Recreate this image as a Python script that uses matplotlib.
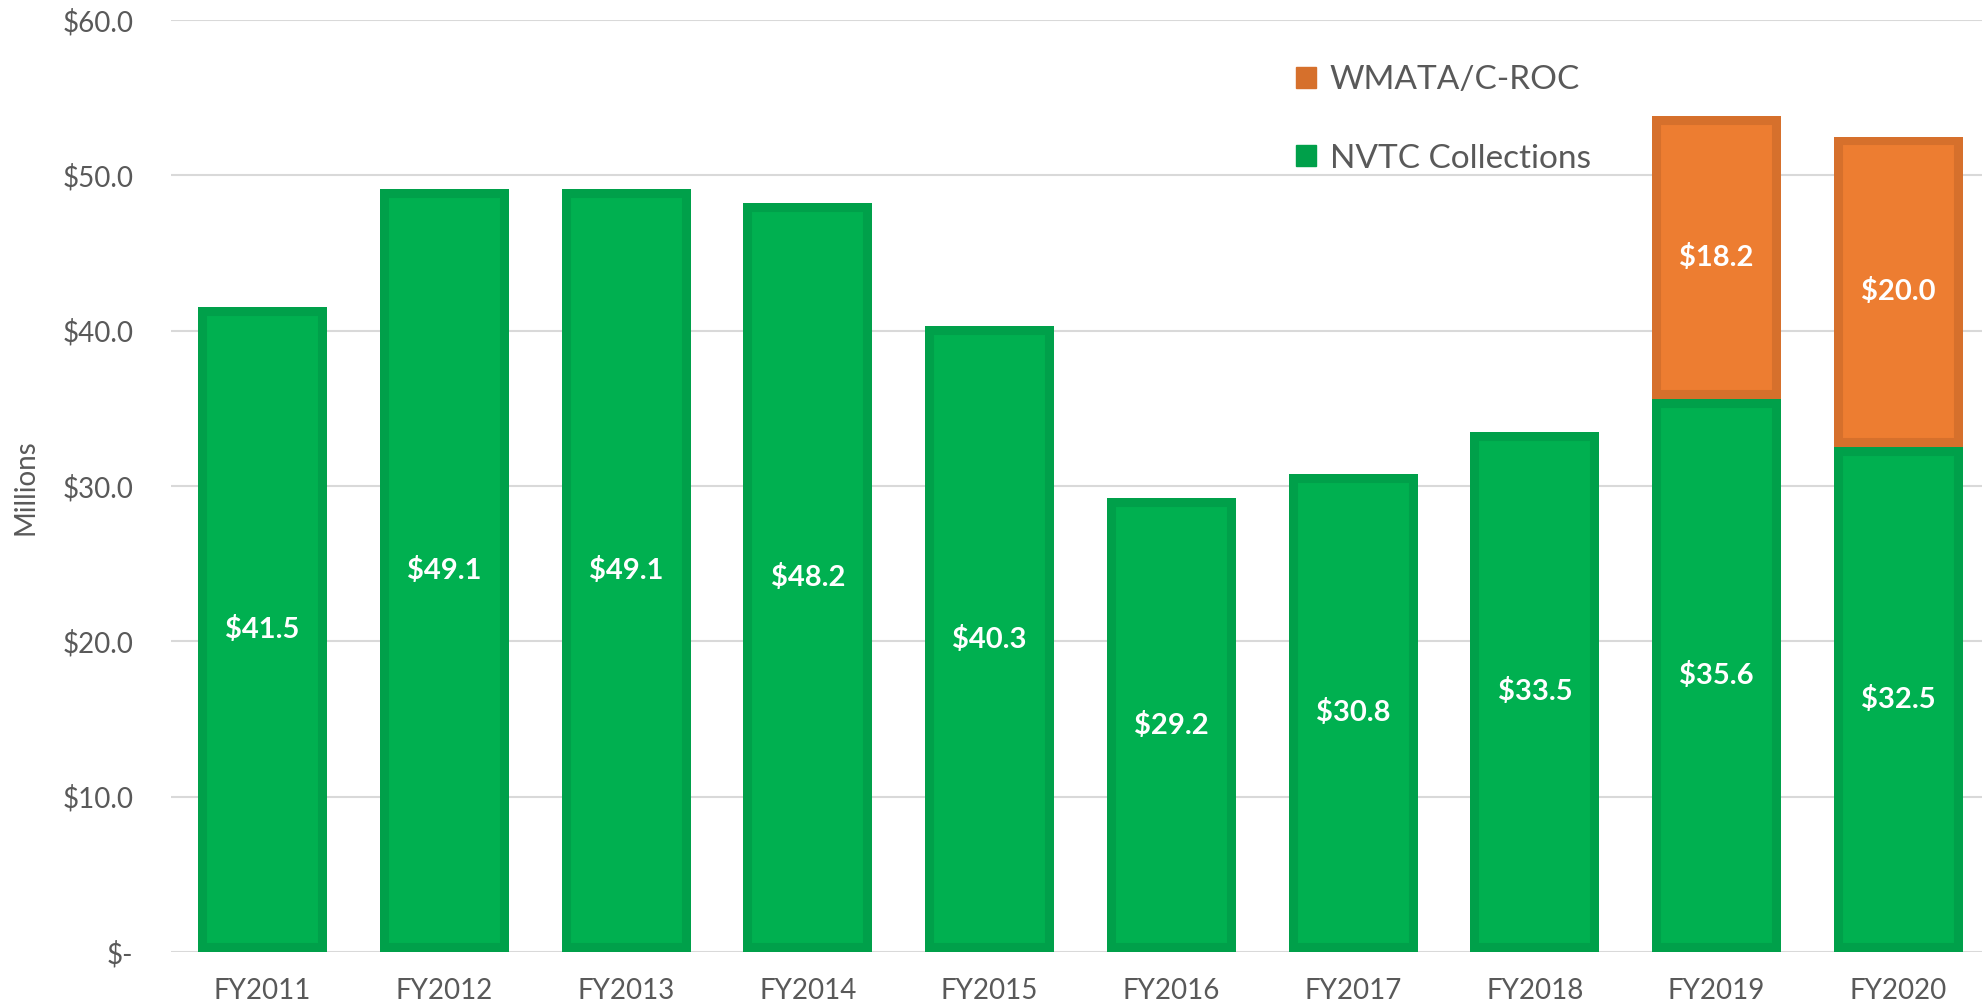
import numpy as np
import matplotlib
matplotlib.use("Agg")
import matplotlib.pyplot as plt
from matplotlib.patches import Patch
from matplotlib.ticker import FixedLocator

years = ["FY2011", "FY2012", "FY2013", "FY2014", "FY2015",
         "FY2016", "FY2017", "FY2018", "FY2019", "FY2020"]
nvtc = [41.5, 49.1, 49.1, 48.2, 40.3, 29.2, 30.8, 33.5, 35.6, 32.5]
wmata = [0, 0, 0, 0, 0, 0, 0, 0, 18.2, 20.0]
yticks = [0, 10, 20, 30, 40, 50, 60]
ytick_labels = ["$-", "$10.0", "$20.0", "$30.0", "$40.0", "$50.0", "$60.0"]

plt.rcParams["font.family"] = ["Lato", "DejaVu Sans"]

green, green_edge = "#00B050", "#00A04A"
orange, orange_edge = "#ED7D31", "#D6702C"
gray = "#595959"

fig = plt.figure(figsize=(19.82, 10.08), dpi=100)
ax = fig.add_axes([171 / 1982, 1 - 952 / 1008, 1 - 171 / 1982, (952 - 20) / 1008])

x = np.arange(len(years))
width = 0.71
lw = 13

bars_g = ax.bar(x, nvtc, width, color=green, edgecolor=green_edge, linewidth=lw, zorder=3)
wm = np.array(wmata)
mask = wm > 0
bars_o = ax.bar(x[mask], wm[mask], width, bottom=np.array(nvtc)[mask], color=orange,
                edgecolor=orange_edge, linewidth=lw, zorder=3)
# keep the border inside each bar, like the original
for p in list(bars_g) + list(bars_o):
    p.set_clip_path(p)

# value labels in segment middles
for i, v in enumerate(nvtc):
    ax.text(i, v / 2, f"${v:.1f}", ha="center", va="center", color="white",
            fontsize=21, fontweight="bold", zorder=4)
for i, v in enumerate(wmata):
    if v > 0:
        ax.text(i, nvtc[i] + v / 2, f"${v:.1f}", ha="center", va="center",
                color="white", fontsize=21, fontweight="bold", zorder=4)

ax.set_xlim(-0.504, 9.46)
ax.set_ylim(0, 60)
ax.yaxis.set_major_locator(FixedLocator(yticks))
ax.set_yticklabels(ytick_labels)
ax.set_xticks(x)
ax.set_xticklabels(years)
ax.tick_params(axis="both", length=0, colors=gray, labelsize=20)
ax.tick_params(axis="y", pad=27)
ax.tick_params(axis="x", pad=19)
ax.grid(axis="y", color="#D9D9D9", linewidth=1.5, zorder=0)
ax.set_axisbelow(True)
for s in ax.spines.values():
    s.set_visible(False)

fig.text(25 / 1982, 1 - 487 / 1008, "Millions", rotation=90, ha="center",
         va="center", color=gray, fontsize=20)

handles = [Patch(color=orange_edge, label="WMATA/C-ROC"),
           Patch(color="#00A04A", label="NVTC Collections")]
ax.legend(handles=handles, loc="center left", bbox_to_anchor=(0.639, 0.8815),
          bbox_transform=fig.transFigure, frameon=False, fontsize=24,
          labelcolor=gray, handlelength=0.6, handleheight=0.6,
          handletextpad=0.4, labelspacing=1.45)

fig.savefig("out.png", dpi=100)
